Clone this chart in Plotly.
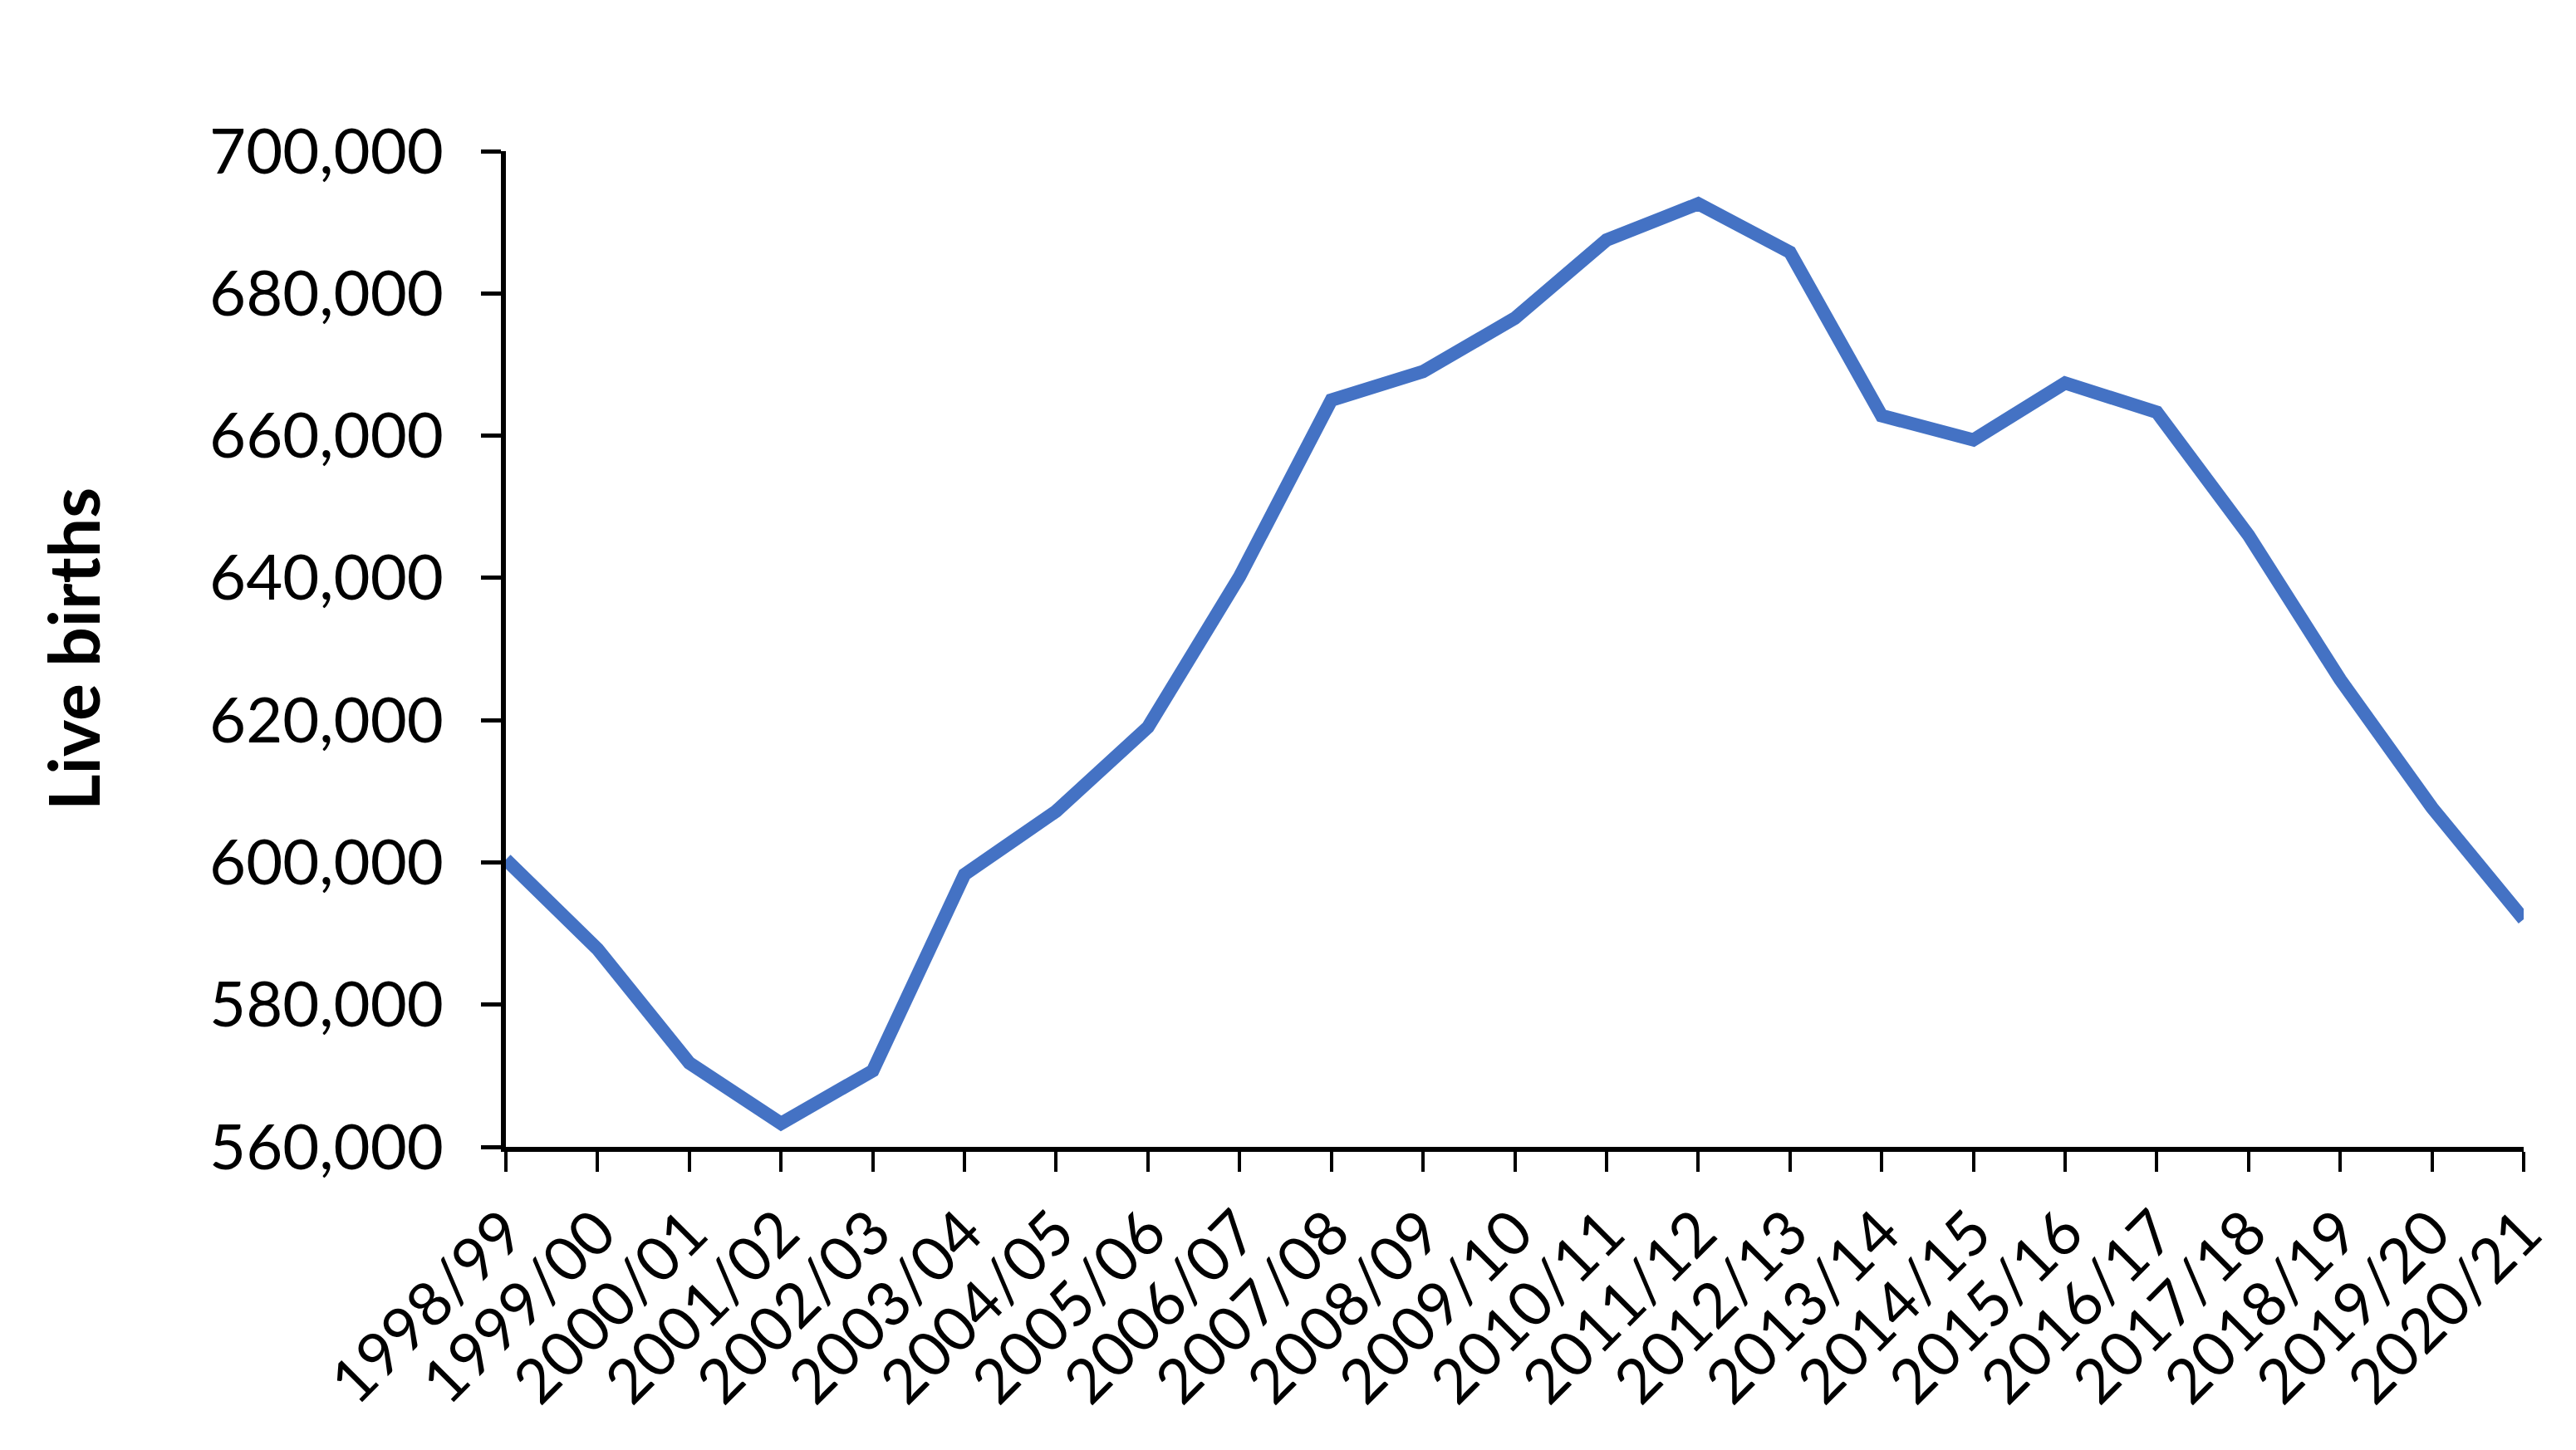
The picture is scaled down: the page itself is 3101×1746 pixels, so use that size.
import plotly.graph_objects as go

years = ["1998/99", "1999/00", "2000/01", "2001/02", "2002/03", "2003/04", "2004/05",
         "2005/06", "2006/07", "2007/08", "2008/09", "2009/10", "2010/11", "2011/12",
         "2012/13", "2013/14", "2014/15", "2015/16", "2016/17", "2017/18", "2018/19",
         "2019/20", "2020/21"]
live_births = [600400, 587800, 571800, 563300, 570700, 598300, 607200,
               619000, 640200, 665000, 669000, 676500, 687500, 692600,
               685800, 662800, 659400, 667400, 663300, 646000, 625700,
               607700, 592000]

fig = go.Figure()
fig.add_trace(go.Scatter(
    x=years, y=live_births, mode="lines",
    line=dict(color="#4472C4", width=16, shape="linear"),
    showlegend=False,
))

font_family = "Lato, 'Open Sans', sans-serif"
fig.update_layout(
    width=3101, height=1746,
    margin=dict(l=601, r=71, t=174, b=373),
    paper_bgcolor="white", plot_bgcolor="white",
    font=dict(family=font_family, size=74, color="black"),
)
fig.update_xaxes(
    type="category", range=[0, 22],
    showline=True, linecolor="black", linewidth=6,
    ticks="outside", ticklen=24, tickwidth=4, tickcolor="black",
    tickangle=-45, showgrid=False, zeroline=False,
    tickfont=dict(family=font_family, size=74, color="black"),
)
fig.update_yaxes(
    range=[560000, 700000], dtick=20000, tickformat=",",
    showline=True, linecolor="black", linewidth=6,
    ticks="outside", ticklen=24, tickwidth=5, tickcolor="black",
    ticklabelstandoff=30,
    showgrid=False, zeroline=False,
    tickfont=dict(family=font_family, size=76, color="black"),
    title=dict(text="<b>Live births</b>", font=dict(family=font_family, size=84, color="black"), standoff=106),
)

fig.write_html("out.html")
